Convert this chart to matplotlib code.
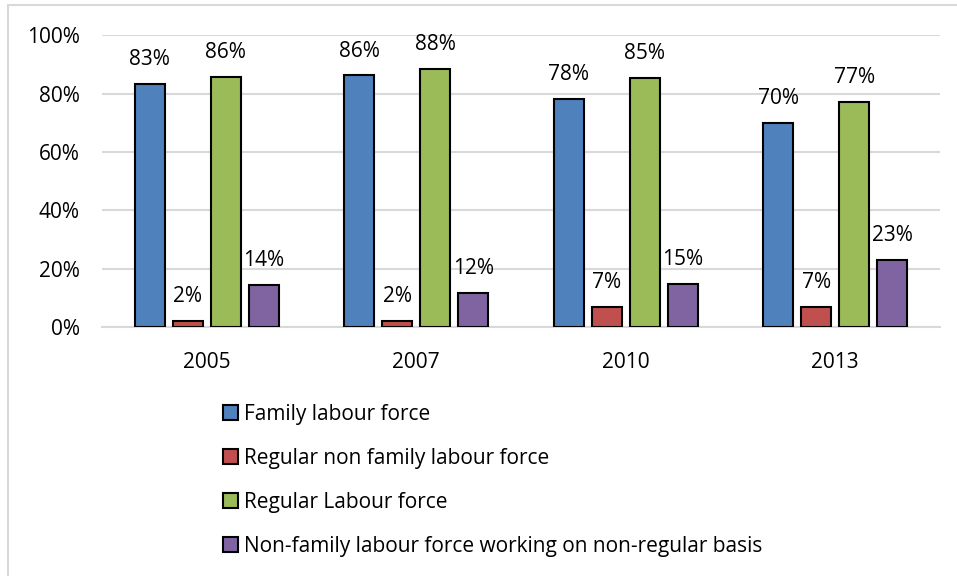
import numpy as np
import matplotlib.pyplot as plt
from matplotlib.patches import Rectangle

# data (percent)
years = ["2005", "2007", "2010", "2013"]
series_names = [
    "Family labour force",
    "Regular non family labour force",
    "Regular Labour force",
    "Non-family labour force working on non-regular basis",
]
family = [83.4, 86.2, 78.3, 69.9]
regular_non_family = [2.1, 2.1, 6.9, 6.9]
regular = [85.6, 88.4, 85.3, 77.0]
non_regular = [14.4, 11.7, 14.7, 22.9]
colors = ["#4f81bd", "#c0504d", "#9bbb59", "#8064a2"]

plt.rcParams['font.family'] = ['Open Sans', 'DejaVu Sans']
fs = 15

fig = plt.figure(figsize=(9.57, 5.76), dpi=100)
ax = fig.add_axes([0.1066, 0.432, 0.8757, 0.507])

x = np.arange(len(years))
width = 0.143
pitch = 0.181
all_series = [family, regular_non_family, regular, non_regular]
handles = []
for i, (vals, col, name) in enumerate(zip(all_series, colors, series_names)):
    offs = (i - 1.5) * pitch
    bars = ax.bar(x + offs, vals, width, color=col, edgecolor="black",
                  linewidth=1.5, label=name, zorder=3)
    handles.append(bars)
    for xi, v in zip(x + offs, vals):
        ax.annotate(f"{v:.0f}%", (xi, v), textcoords="offset points",
                    xytext=(0, 10), ha="center", va="bottom", fontsize=fs)

ax.set_xlim(-0.5, len(years) - 0.5)
ax.set_ylim(0, 100)
ax.set_yticks(np.arange(0, 101, 20))
ax.set_yticklabels([f"{t}%" for t in range(0, 101, 20)], fontsize=fs)
ax.set_xticks(x)
ax.set_xticklabels(years, fontsize=fs)
ax.tick_params(length=0)
ax.tick_params(axis="x", pad=18)
ax.tick_params(axis="y", pad=16)
ax.grid(axis="y", color="#d9d9d9", linewidth=1.5, zorder=0)
for s in ["top", "right", "left"]:
    ax.spines[s].set_visible(False)
ax.spines["bottom"].set_color("#d9d9d9")
ax.spines["bottom"].set_linewidth(1.5)

fig.legend(handles=handles, loc="upper left", bbox_to_anchor=(0.224, 0.313),
           frameon=False, fontsize=fs, handlelength=0.72, handleheight=0.72,
           handletextpad=0.3, labelspacing=1.1, borderaxespad=0)

# chart outline (only left and top edges visible in the crop)
fig.patches.append(Rectangle((8 / 957, -0.1), 1.2, 1 - 5 / 576 + 0.1,
                             transform=fig.transFigure, fill=False,
                             edgecolor="#d9d9d9", linewidth=1.5))

fig.savefig("out.png", dpi=100)
